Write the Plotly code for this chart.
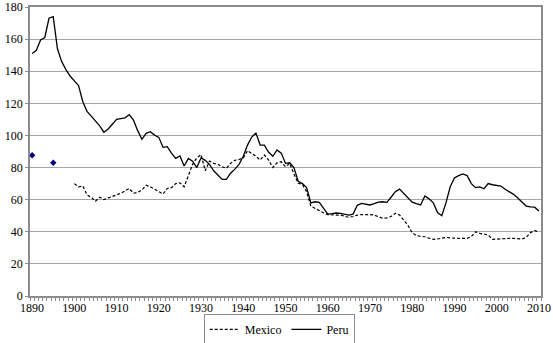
import plotly.graph_objects as go

peru_years = list(range(1890, 2011))
peru_values = [
    151, 153, 159.5, 161, 173, 174, 154, 146, 141, 137,            # 1890-1899
    134, 131, 121, 115, 112, 109, 106, 102, 104, 107,              # 1900-1909
    110, 110.5, 111, 113, 109.5, 103, 97.6, 101.3, 102.3, 100.2,   # 1910-1919
    98.8, 92.6, 93, 89, 85.7, 87.2, 81, 85.7, 84, 80,              # 1920-1929
    86, 84.5, 82, 78, 75, 72.6, 72.6, 76.5, 79, 82,                # 1930-1939
    87, 94, 99, 101.5, 94, 94, 89.5, 87, 91, 89,                   # 1940-1949
    82.6, 83, 80, 71.5, 70, 67.5, 58, 58.7, 58.3, 55,              # 1950-1959
    51, 51.3, 51.7, 51.5, 50.9, 50.4, 51, 56.5, 57.7, 57.2,        # 1960-1969
    56.7, 57.5, 58.5, 58.7, 58.3, 61.5, 65, 66.6, 64, 61,          # 1970-1979
    58.5, 57.5, 56.7, 62.3, 60.5, 58, 52, 50, 58, 68,              # 1980-1989
    73.5, 75, 76, 75, 70, 67.5, 68, 66.8, 70, 69.3,                # 1990-1999
    68.7, 68.5, 66.5, 65, 63.3, 61, 58.5, 56, 55.5, 55.3,          # 2000-2009
    53,                                                            # 2010
]

mexico_years = list(range(1900, 2011))
mexico_values = [
    70, 68, 68.5, 63, 61.5, 59, 61.5, 60, 61, 62,                  # 1900-1909
    63, 64, 65.5, 67, 64, 64.5, 66, 69, 68, 66.5,                  # 1910-1919
    64.5, 63.5, 67, 67.5, 70, 70.5, 68, 75, 82, 86,                # 1920-1929
    88, 78, 84, 82.6, 82, 80.5, 79.5, 82.6, 84.5, 85,              # 1930-1939
    86, 90.5, 89, 87, 84.7, 87.8, 84.7, 80, 83, 83.6,              # 1940-1949
    80.5, 82.6, 76, 70.2, 69.5, 65, 56, 54.5, 53.5, 51.8,          # 1950-1959
    50.7, 50.4, 50.4, 50.4, 49.5, 49, 49.5, 50.4, 50.7, 50.9,      # 1960-1969
    50.7, 50.4, 49.5, 48.4, 48.7, 49.5, 51.5, 50.5, 47.3, 44,      # 1970-1979
    39.4, 37.5, 37.2, 36.9, 36, 35.3, 35.5, 35.9, 36.5, 36.2,      # 1980-1989
    35.9, 35.9, 35.9, 35.9, 37, 40, 39, 38.5, 38, 35.3,            # 1990-1999
    35.5, 35.9, 35.9, 35.9, 35.9, 35.7, 35.5, 36.5, 39.5, 40.7,    # 2000-2009
    40,                                                            # 2010
]

early_years = [1890, 1895]
early_values = [87.6, 83]

x_ticks = list(range(1890, 2011, 10))
y_ticks = list(range(0, 181, 20))

font_family = "Liberation Serif"

fig = go.Figure()
fig.add_trace(go.Scatter(
    x=mexico_years, y=mexico_values, mode="lines", name="Mexico",
    line=dict(color="black", width=1.2, dash="3px,2px"),
))
fig.add_trace(go.Scatter(
    x=peru_years, y=peru_values, mode="lines", name="Peru",
    line=dict(color="black", width=1.3),
))
fig.add_trace(go.Scatter(
    x=early_years, y=early_values, mode="markers", showlegend=False,
    marker=dict(color="#000080", size=5, symbol="diamond"),
))

fig.update_layout(
    width=553, height=343,
    margin=dict(l=30, r=12, t=7, b=47, autoexpand=False),
    paper_bgcolor="white", plot_bgcolor="white",
    font=dict(family=font_family, size=12, color="black"),
    showlegend=True,
    legend=dict(
        orientation="h",
        xref="container", x=0.505, xanchor="center",
        yref="container", y=0.085, yanchor="top",
        bordercolor="#8c8c8c", borderwidth=1, bgcolor="white",
        font=dict(family=font_family, size=12, color="black"),
        itemwidth=30, tracegroupgap=0,
    ),
    xaxis=dict(
        range=[1889.5, 2010.5], tickmode="array", tickvals=x_ticks,
        ticktext=[str(v) for v in x_ticks],
        showgrid=False, zeroline=False, automargin=False,
        showline=True, linecolor="#8c8c8c", linewidth=1.5, mirror=True,
        ticks="", ticklen=0,
        minor=dict(ticks="outside", tick0=1889.5, dtick=1, ticklen=3,
                   tickcolor="#8c8c8c", tickwidth=1, showgrid=False),
        tickfont=dict(family=font_family, size=12),
    ),
    yaxis=dict(
        range=[0, 180], tickmode="array", tickvals=y_ticks,
        showgrid=True, gridcolor="#a6a6a6", gridwidth=1,
        zeroline=False, automargin=False,
        showline=True, linecolor="#8c8c8c", linewidth=1.5, mirror=True,
        ticks="outside", ticklen=3, tickcolor="#8c8c8c",
        tickfont=dict(family=font_family, size=12),
    ),
)

fig.write_html(
    "out.html",
    config={"displayModeBar": False},
    post_script="document.body.style.margin='0px';document.body.style.overflow='hidden';",
)
